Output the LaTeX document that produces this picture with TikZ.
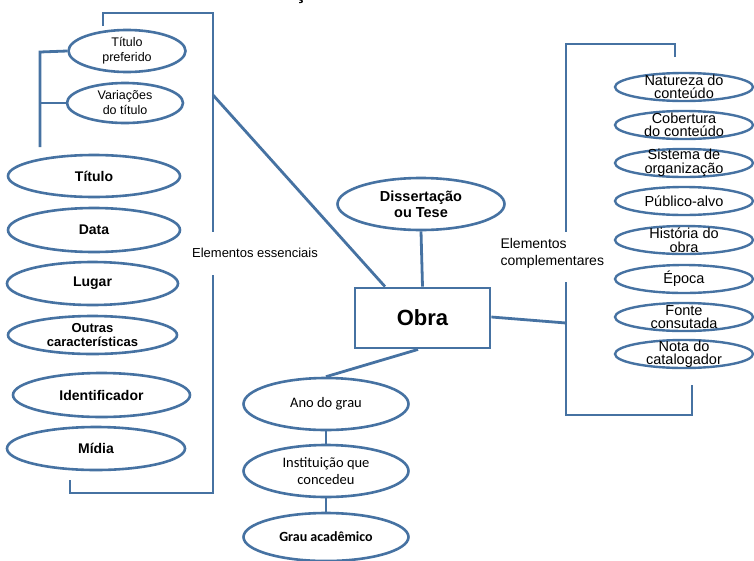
\documentclass[tikz,border=0pt]{standalone}
\usepackage{fontspec}
\setmainfont{Liberation Sans}
\newfontfamily\calibfont{Carlito}
\usetikzlibrary{shapes.geometric}
\definecolor{linkblue}{RGB}{70,114,162}
\tikzset{
  link/.style={draw=linkblue, line width=2.8pt, line join=miter},
  oval/.style={ellipse, draw=linkblue, line width=2.6pt, inner sep=0pt},
  bigoval/.style={oval, minimum width=175pt, minimum height=44pt},
  subtxt/.style={align=center, font=\fontsize{12.5}{15}\selectfont},
  lefttxt/.style={align=center, font=\fontsize{14}{15}\selectfont\bfseries},
  smalltxt/.style={align=center, font=\fontsize{13}{14.5}\selectfont\bfseries},
  rightoval/.style={oval, line width=2.4pt, minimum width=138pt, minimum height=28pt},
  righttxt/.style={align=center, font=\fontsize{14.5}{13.5}\selectfont},
  gradoval/.style={oval, minimum width=165pt, minimum height=52pt},
  gradtxt/.style={align=center, font=\fontsize{14.5}{17}\selectfont\calibfont},
  caption/.style={font=\fontsize{13}{15}\selectfont},
}
\begin{document}
\begin{tikzpicture}[x=1pt, y=-1pt]
  \useasboundingbox (0,0) rectangle (754,560);
  \clip (0,0) rectangle (754,560);
  \fill[white] (0,0) rectangle (754,560);

  % descender of the title line above the frame
  \node[anchor=base, inner sep=0pt, font=\fontsize{20}{20}\selectfont\bfseries] (titlecut) at (301,-0.5) {ç};

  % ---------- central work ----------
  \node[draw=linkblue, line width=2.8pt, minimum width=135pt, minimum height=60pt,
        font=\fontsize{22}{22}\selectfont\bfseries] (obra) at (422.5,318) {Obra};
  \node[oval, minimum width=167pt, minimum height=52pt,
        label={[align=center, font=\fontsize{14.5}{16}\selectfont\bfseries]center:Dissertação\\ou Tese}] (tese) at (421,204) {};

  % ---------- essential elements ----------
  \node[oval, minimum width=117pt, minimum height=42pt,
        label={[subtxt]center:Título\\preferido}] (preferido) at (127,51) {};
  \node[oval, minimum width=116pt, minimum height=40pt,
        label={[subtxt]center:Variações\\do título}] (variacoes) at (125,103) {};

  \node[bigoval, minimum width=172pt, minimum height=42pt, label={[lefttxt]center:Título}] (titulo) at (94,176) {};
  \node[bigoval, minimum width=172pt, label={[lefttxt]center:Data}] (data) at (94,230) {};
  \node[bigoval, minimum width=171pt, minimum height=43pt, label={[lefttxt]center:Lugar}] (lugar) at (92.5,283.5) {};
  \node[bigoval, minimum width=169pt, minimum height=38pt,
        label={[smalltxt]center:Outras\\características}] (outras) at (92.5,335) {};
  \node[bigoval, minimum width=177pt, label={[lefttxt]center:Identificador}] (ident) at (101.5,395) {};
  \node[bigoval, minimum width=178pt, minimum height=43pt, label={[lefttxt]center:Mídia}] (midia) at (96,448.5) {};

  \node[caption] (essenciais) at (255,253) {Elementos essenciais};

  % bracket joining the two title variants
  \coordinate (subtop) at (40,52);
  \coordinate (submid) at (40,103);
  \coordinate (subbot) at (40,147);
  \draw[link] (preferido.west) -- (subtop) -- (subbot);
  \draw[link] (submid) -- (variacoes.west);

  % bracket of the essential elements
  \coordinate (ea) at (103,26);
  \coordinate (eb) at (103,13);
  \coordinate (ec) at (213,13);
  \coordinate (ed) at (213,232);
  \coordinate (ee) at (213,275);
  \coordinate (ef) at (213,493);
  \coordinate (eg) at (70,493);
  \coordinate (eh) at (70,480);
  \coordinate (ediag) at (213,95);
  \draw[link] (ea) -- (eb) -- (ec) -- (ed);
  \draw[link] (ee) -- (ef) -- (eg) -- (eh);
  \draw[link] (ediag) -- (obra.north west -| 385,0);

  % ---------- complementary elements ----------
  \node[rightoval, label={[righttxt]center:Natureza do\\conteúdo}] (natureza) at (684,87) {};
  \node[rightoval, label={[righttxt]center:Cobertura\\do conteúdo}] (cobertura) at (684,125) {};
  \node[rightoval, label={[righttxt]center:Sistema de\\organização}] (sistema) at (684,163) {};
  \node[rightoval, label={[righttxt]center:Público-alvo}] (publico) at (684,201) {};
  \node[rightoval, label={[righttxt]center:História do\\obra}] (historia) at (684,240) {};
  \node[rightoval, label={[righttxt]center:Época}] (epoca) at (684,279) {};
  \node[rightoval, label={[righttxt]center:Fonte\\consutada}] (fonte) at (684,317) {};
  \node[rightoval, label={[righttxt]center:Nota do\\catalogador}] (nota) at (684,354) {};

  \node[caption, font=\fontsize{14}{17}\selectfont, align=left, anchor=west] (complementares) at (497,253) {Elementos\\complementares};

  \coordinate (ca) at (675,57);
  \coordinate (cb) at (675,44);
  \coordinate (cc) at (566,44);
  \coordinate (cd) at (566,232);
  \coordinate (ce) at (566,282);
  \coordinate (cf) at (566,415);
  \coordinate (cg) at (692,415);
  \coordinate (ch) at (692,385);
  \coordinate (cjoin) at (566,323);
  \draw[link] (ca) -- (cb) -- (cc) -- (cd);
  \draw[link] (ce) -- (cf) -- (cg) -- (ch);
  \draw[link] (obra.east |- 0,317) -- (cjoin);

  % ---------- thesis chain ----------
  \node[gradoval, label={[gradtxt]center:Ano do grau}] (ano) at (326,404) {};
  \node[gradoval, label={[gradtxt]center:Instituição que\\concedeu}] (inst) at (326,471) {};
  \node[gradoval, minimum height=48pt,
        label={[gradtxt, font=\fontsize{14}{17}\selectfont\calibfont\bfseries]center:Grau acadêmico}] (grau) at (326,537) {};

  \draw[link] (tese.south) -- (obra.north);
  \draw[link] (obra.south -| 418,0) -- (ano.north);
  \draw[link] (ano.south) -- (inst.north);
  \draw[link] (inst.south) -- (grau.north);
\end{tikzpicture}
\end{document}
